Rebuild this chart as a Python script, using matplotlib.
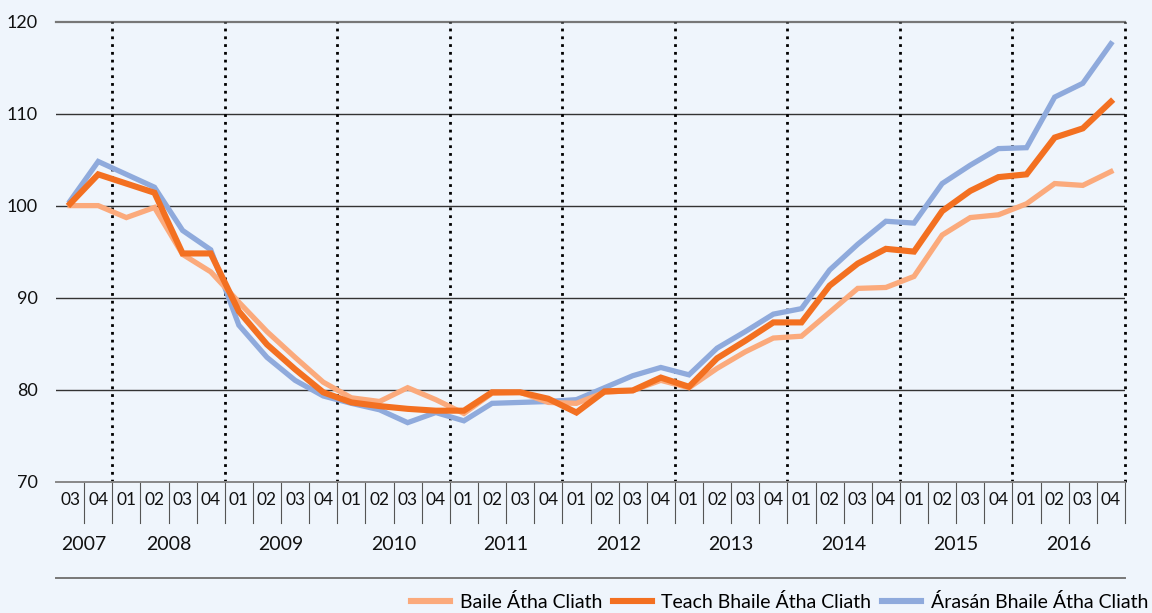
import matplotlib
matplotlib.use("Agg")
import matplotlib.pyplot as plt

plt.rcParams["font.family"] = ["Lato", "DejaVu Sans"]

years = ["2007", "2008", "2009", "2010", "2011", "2012", "2013", "2014", "2015", "2016"]
quarters_per_year = [2, 4, 4, 4, 4, 4, 4, 4, 4, 4]
quarter_labels = ["03", "04"] + ["01", "02", "03", "04"] * 9

baile = [100.0, 100.0, 98.7, 99.8, 94.7, 92.8, 89.5, 86.3, 83.5, 80.8,
         79.1, 78.7, 80.2, 78.9, 77.4, 79.6, 79.7, 78.6, 78.5, 79.7,
         79.9, 81.0, 80.2, 82.3, 84.1, 85.6, 85.8, 88.4, 91.0, 91.1,
         92.3, 96.8, 98.7, 99.0, 100.2, 102.4, 102.2, 103.7]
teach = [100.2, 103.4, 102.4, 101.4, 94.8, 94.8, 88.5, 84.9, 82.2, 79.7,
         78.6, 78.2, 77.9, 77.7, 77.7, 79.7, 79.7, 79.0, 77.5, 79.8,
         79.9, 81.3, 80.3, 83.4, 85.3, 87.3, 87.3, 91.3, 93.7, 95.3,
         95.0, 99.4, 101.6, 103.1, 103.4, 107.4, 108.4, 111.3]
arasan = [100.5, 104.8, 103.4, 102.0, 97.3, 95.2, 87.0, 83.5, 81.0, 79.3,
          78.5, 77.8, 76.4, 77.5, 76.6, 78.5, 78.6, 78.7, 78.9, 80.2,
          81.5, 82.4, 81.6, 84.5, 86.3, 88.2, 88.8, 93.0, 95.8, 98.3,
          98.1, 102.4, 104.4, 106.2, 106.3, 111.8, 113.3, 117.6]

series_names = ["Baile Átha Cliath", "Teach Bhaile Átha Cliath", "Árasán Bhaile Átha Cliath"]
colors = ["#FBAA7C", "#F37021", "#8FAADC"]

BG = "#EFF5FC"
W, H = 1152, 613
fig = plt.figure(figsize=(W / 100, H / 100), dpi=100, facecolor=BG)
ax = fig.add_axes([56 / W, 1 - 481.5 / H, (1125 - 56) / W, (481.5 - 21.7) / H])
ax.set_facecolor(BG)

n = len(quarter_labels)
xs = list(range(n))
ax.plot(xs, arasan, color=colors[2], lw=3.8, zorder=3, solid_joinstyle="miter")
ax.plot(xs, baile, color=colors[0], lw=3.8, zorder=4, solid_joinstyle="miter")
ax.plot(xs, teach, color=colors[1], lw=4.4, zorder=5, solid_joinstyle="miter")

ax.set_xlim(-0.5, n - 0.5)
ax.set_ylim(70, 120)
ax.set_yticks([70, 80, 90, 100, 110, 120])
ax.tick_params(axis="y", length=0, pad=13, labelsize=13, colors="#111111")
ax.set_xticks([])
for v in [80, 90, 100, 110]:
    ax.axhline(v, color="#333333", lw=1.0, zorder=1)
ax.axhline(120, color="#777777", lw=1.6, zorder=1, clip_on=False)
for s in ["top", "left", "right"]:
    ax.spines[s].set_visible(False)
ax.spines["bottom"].set_color("#888888")
ax.spines["bottom"].set_linewidth(1.4)

# year boundaries (dotted) and the category table below the axis
tr = ax.get_xaxis_transform()
pos = -0.5
for y, nq in zip(years, quarters_per_year):
    start = pos
    pos += nq
    ax.plot([pos, pos], [0, 1], color="black", lw=2.0, ls=(0, (1, 1.8)),
            transform=tr, clip_on=False, zorder=2)
    ax.text((start + pos) / 2, -0.138, y, transform=tr, ha="center", va="center",
            fontsize=14, color="#111111")
for i, q in enumerate(quarter_labels):
    ax.text(i, -0.040, q, transform=tr, ha="center", va="center", fontsize=12.5,
            color="#111111")
    ax.plot([i + 0.5, i + 0.5], [0, -0.090], color="#555555", lw=0.8,
            transform=tr, clip_on=False)
ax.plot([-0.5, n - 0.5], [-0.210, -0.210], color="#777777", lw=1.4,
        transform=tr, clip_on=False)

handles = [plt.Line2D([], [], color=c, lw=4.4) for c in colors]
fig.legend(handles, series_names, loc="center right", bbox_to_anchor=(0.9965, 0.018),
           ncol=3, frameon=False, fontsize=14, handlelength=2.0,
           handletextpad=0.5, columnspacing=0.55, borderpad=0, borderaxespad=0)

fig.savefig("out.png", dpi=100, facecolor=BG)
